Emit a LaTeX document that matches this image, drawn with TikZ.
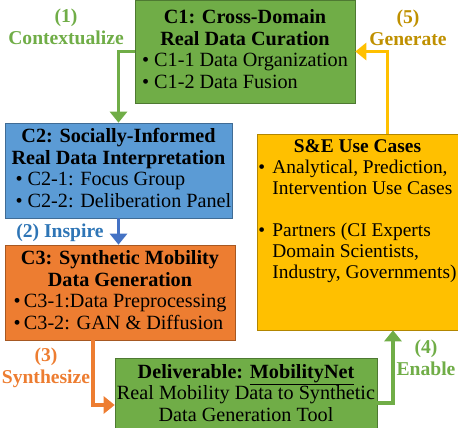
\documentclass[tikz,border=0pt]{standalone}
\usepackage{fontspec}
\setmainfont{Liberation Serif}
\usepackage{tikz}
\usetikzlibrary{arrows.meta,positioning}
\definecolor{cgreen}{HTML}{70AD47}
\definecolor{cblue}{HTML}{5B9BD5}
\definecolor{cbluetxt}{HTML}{2E75B6}
\definecolor{carrowblue}{HTML}{4472C4}
\definecolor{corange}{HTML}{ED7D31}
\definecolor{cgold}{HTML}{FFC000}
\definecolor{cgoldtxt}{HTML}{BF9000}
\newcommand{\hdr}[1]{\multicolumn{1}{c}{\bfseries #1}}

\begin{document}
\begin{tikzpicture}[x=1pt,y=-1pt,
  box/.style={draw=#1!70!black,fill=#1,line width=0.6pt,inner sep=0pt,
    font=\fontsize{20.2}{21.5}\selectfont},
  lbl/.style={font=\fontsize{19.6}{21.5}\selectfont\bfseries,align=center,inner sep=0pt},
  edge/.style={line width=3.6pt,-{Triangle[length=11pt,width=17pt]}}
]
  \useasboundingbox (0,0) rectangle (458,428);
  % component boxes
  \node[box=cgreen,minimum width=220,minimum height=103] (c1) at (245,51.5)
    {\begin{tabular}{@{}l@{}}\hdr{C1: Cross-Domain}\\ \hdr{Real Data Curation}\\
     \textbullet\ C1-1 Data Organization\\ \textbullet\ C1-2 Data Fusion\end{tabular}};
  \node[box=cblue,minimum width=227,minimum height=95] (c2) at (118.5,170.5)
    {\begin{tabular}{@{}l@{}}\hdr{C2: Socially-Informed}\\ \hdr{Real Data Interpretation}\\
     \hspace{10pt}\textbullet\ C2-1: Focus Group\\ \hspace{10pt}\textbullet\ C2-2: Deliberation Panel\end{tabular}};
  \node[box=corange,minimum width=230,minimum height=95] (c3) at (120,292.5)
    {\begin{tabular}{@{}l@{}}\hdr{C3: Synthetic Mobility}\\ \hdr{Data Generation}\\
     \textbullet\,C3-1:Data Preprocessing\\ \textbullet\,C3-2: GAN \& Diffusion\end{tabular}};
  \node[box=cgreen,minimum width=262,minimum height=70,align=center] (deliv) at (246,393)
    {\textbf{Deliverable: \underline{MobilityNet}}\\ Real Mobility Data to Synthetic\\
     Data Generation Tool};
  \node[box=cgold,minimum width=201,minimum height=196,
    font=\fontsize{19.4}{21}\selectfont] (use) at (357.5,232)
    {\begin{tabular}{@{}l@{}}\hdr{S\&E Use Cases}\\
     \makebox[14pt][l]{\textbullet}Analytical, Prediction,\\
     \hspace{14pt}Intervention Use Cases\\[21pt]
     \makebox[14pt][l]{\textbullet}Partners (CI Experts\\
     \hspace{14pt}Domain Scientists,\\
     \hspace{14pt}Industry, Governments)\\[42pt]\end{tabular}};
  % flow labels
  \node[lbl,text=cgreen] (l1) at (66,27) {(1)\\ Contextualize};
  \node[lbl,text=cbluetxt] (l2) at (60,233) {(2) Inspire};
  \node[lbl,text=corange] (l3) at (46,368) {(3)\\ Synthesize};
  \node[lbl,text=cgreen] (l4) at (426,358) {(4)\\ Enable};
  \node[lbl,text=cgoldtxt] (l5) at (408,28) {(5)\\ Generate};
  % flow arrows
  \draw[edge,cgreen] (c1.west) -| (c2.north);
  \draw[edge,carrowblue] (c2.south) -- (c2.south |- c3.north);
  \draw[edge,corange] ([xshift=-27pt]c3.south) |- ([yshift=-12pt]deliv.west);
  \draw[edge,cgreen] ([yshift=-10pt]deliv.east) -| ([xshift=35.5pt]use.south);
  \draw[edge,cgold] ([xshift=30pt]use.north) |- (c1.east);
\end{tikzpicture}
\end{document}
